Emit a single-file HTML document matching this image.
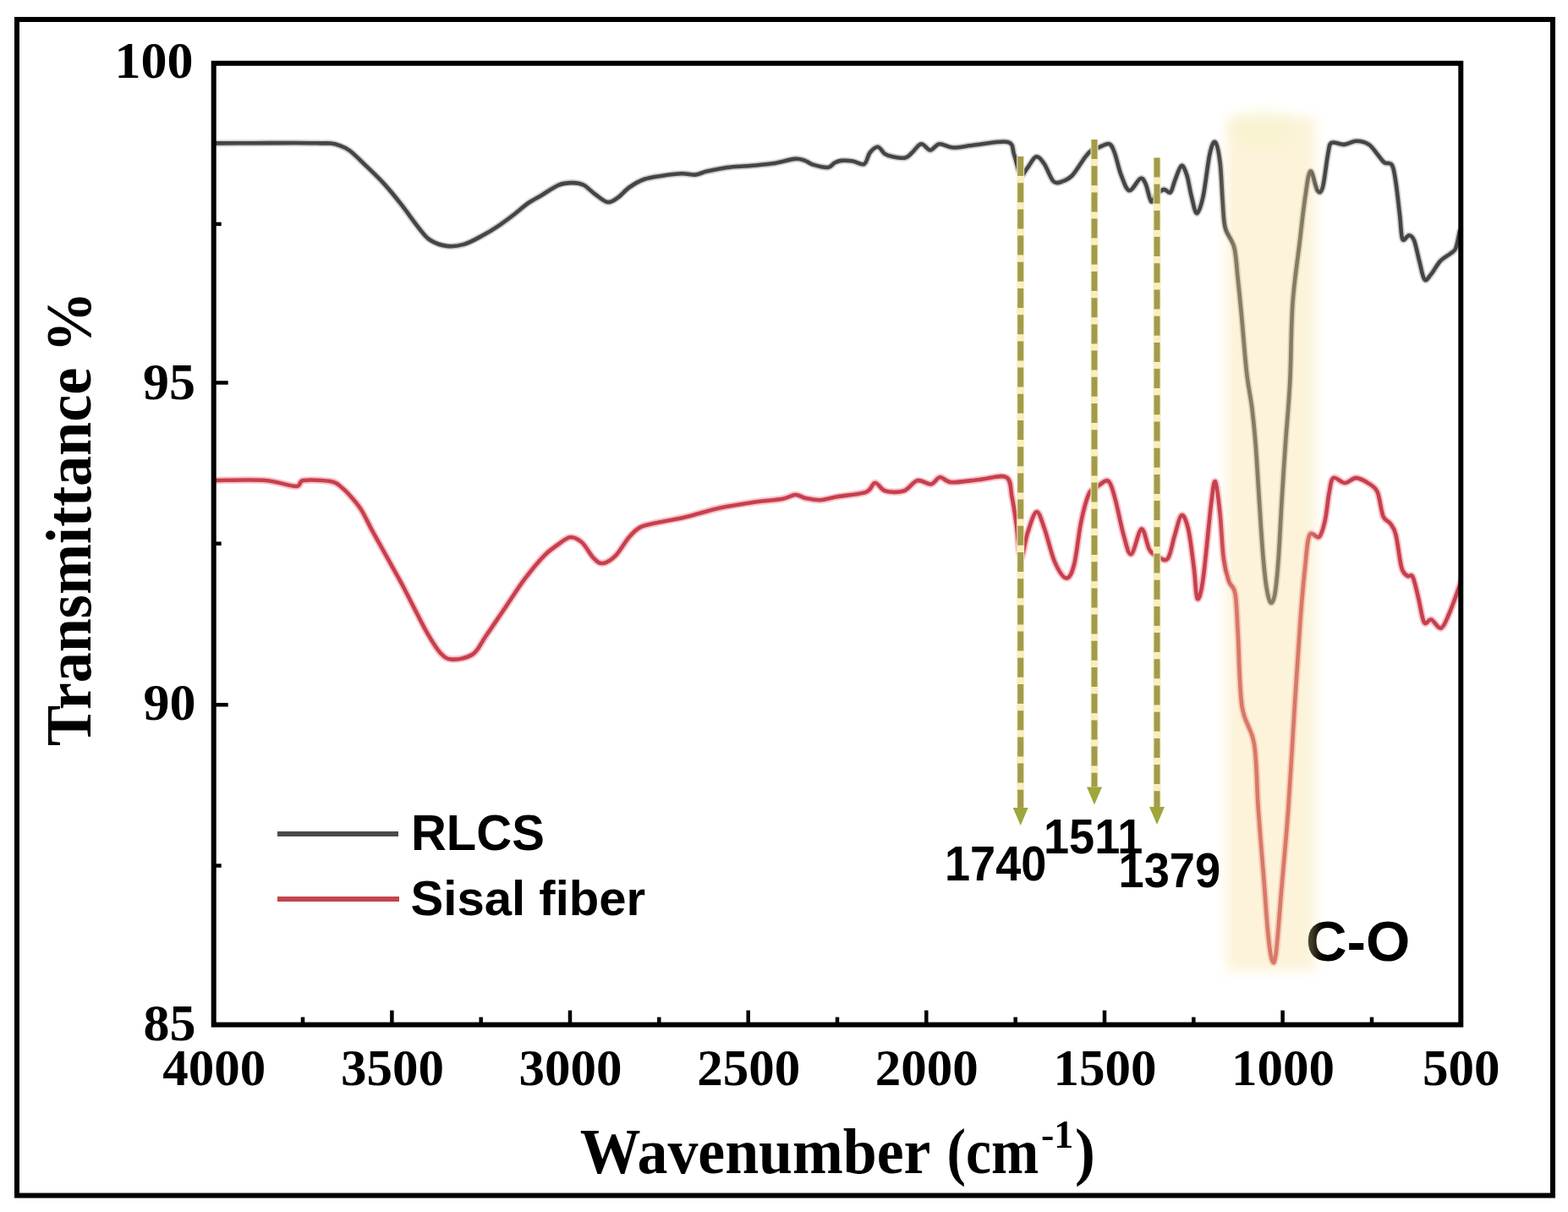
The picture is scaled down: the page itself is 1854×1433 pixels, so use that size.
<!DOCTYPE html><html><head><meta charset="utf-8"><title>FTIR spectra</title><style>
html,body{margin:0;padding:0;background:#fff;}body{width:1854px;height:1433px;overflow:hidden;}
svg{display:block;filter:blur(0.45px);}
.serif{font-family:"Liberation Serif","Times New Roman",serif;font-weight:bold;}
.sans{font-family:"Liberation Sans",Arial,sans-serif;font-weight:bold;}
</style></head><body>
<svg width="1854" height="1433" viewBox="0 0 1854 1433">
<defs>
<filter id="blur8" x="-50%" y="-10%" width="200%" height="120%"><feGaussianBlur stdDeviation="7"/></filter>
<filter id="blur2" x="-50%" y="-5%" width="200%" height="110%"><feGaussianBlur stdDeviation="2"/></filter>
<filter id="soft" x="-5%" y="-5%" width="110%" height="110%"><feGaussianBlur stdDeviation="0.7"/></filter>
<clipPath id="plot"><rect x="252.7" y="74.8" width="1474.6" height="1136.8"/></clipPath>
</defs>
<rect width="1854" height="1433" fill="#fff"/>
<rect x="20" y="23" width="1816" height="1390.5" fill="none" stroke="#000" stroke-width="6"/>
<g clip-path="url(#plot)"><g filter="url(#soft)" fill="none" stroke-linejoin="round" stroke-linecap="round">
<path d="M253.5,169.4 C261.2,169.4 283.9,169.3 300.0,169.2 C316.1,169.1 336.7,169.0 350.0,169.0 C363.3,169.0 373.2,169.3 380.0,169.4 C386.8,169.5 387.6,169.1 391.0,169.5 C394.4,169.9 396.4,170.1 400.2,171.6 C404.0,173.1 408.1,174.0 413.7,178.3 C419.3,182.6 427.2,190.7 434.0,197.2 C440.8,203.7 447.5,210.0 454.2,217.4 C460.9,224.8 467.7,233.1 474.4,241.7 C481.1,250.2 489.0,261.7 494.6,268.7 C500.2,275.7 502.5,279.8 508.1,283.5 C513.7,287.2 521.5,290.0 528.3,290.9 C535.0,291.8 541.9,290.8 548.6,288.9 C555.4,287.0 562.1,283.0 568.8,279.4 C575.5,275.8 582.3,271.8 589.0,267.3 C595.7,262.8 603.4,257.0 609.2,252.5 C615.0,248.0 618.8,244.1 624.0,240.5 C629.2,236.9 634.1,234.5 640.2,230.9 C646.3,227.3 654.4,221.3 660.5,218.8 C666.6,216.3 671.7,216.1 676.6,216.1 C681.5,216.1 685.6,216.6 690.1,218.8 C694.6,221.1 698.9,226.2 703.6,229.6 C708.3,233.0 713.9,238.3 718.4,239.0 C722.9,239.7 726.3,236.5 730.6,233.6 C734.9,230.7 738.9,225.1 744.1,221.5 C749.3,217.9 755.3,214.2 761.6,212.0 C767.9,209.8 774.4,209.1 781.8,208.0 C789.2,206.9 799.4,205.5 806.1,205.3 C812.9,205.1 817.3,207.1 822.3,206.6 C827.2,206.1 829.5,204.0 835.8,202.6 C842.1,201.2 851.5,199.1 860.0,198.0 C868.5,196.9 878.0,196.8 887.0,196.0 C896.0,195.2 905.2,194.7 914.0,193.3 C922.8,192.0 933.3,188.5 939.6,187.9 C945.9,187.3 948.1,188.8 951.7,189.9 C955.3,191.0 956.6,193.2 961.1,194.6 C965.6,195.9 974.4,198.3 978.7,198.0 C983.0,197.7 984.1,193.9 986.8,192.6 C989.5,191.2 991.2,190.2 994.8,189.9 C998.4,189.6 1003.8,189.9 1008.3,190.6 C1012.8,191.3 1018.4,195.6 1021.8,193.9 C1025.2,192.2 1025.9,183.9 1028.6,180.5 C1031.3,177.1 1035.1,173.5 1038.0,173.7 C1040.9,173.9 1043.2,179.9 1046.1,181.8 C1049.0,183.7 1051.5,184.4 1055.5,185.2 C1059.5,186.0 1066.6,187.3 1070.4,186.5 C1074.2,185.7 1075.3,183.2 1078.4,180.5 C1081.5,177.8 1085.6,170.8 1089.2,170.3 C1092.8,169.8 1096.4,177.4 1100.0,177.4 C1103.6,177.4 1106.3,170.7 1110.8,170.2 C1115.3,169.7 1119.8,174.3 1127.0,174.5 C1134.2,174.7 1143.1,172.4 1153.9,171.3 C1164.7,170.2 1184.2,166.0 1191.7,168.0 C1199.2,170.0 1196.7,176.7 1199.2,183.2 C1201.7,189.7 1204.3,204.2 1206.8,206.9 C1209.3,209.6 1211.2,202.9 1214.3,199.3 C1217.3,195.7 1221.7,186.2 1225.1,185.3 C1228.5,184.4 1231.4,189.1 1234.8,193.9 C1238.2,198.8 1242.0,211.0 1245.6,214.4 C1249.2,217.8 1252.6,215.7 1256.4,214.4 C1260.2,213.2 1263.8,211.8 1268.3,206.9 C1272.8,202.1 1279.5,190.3 1283.4,185.3 C1287.4,180.3 1289.5,178.5 1292.0,176.7 C1294.5,174.9 1295.3,175.6 1298.6,174.5 C1301.9,173.4 1308.4,169.1 1311.6,170.2 C1314.8,171.3 1315.7,174.9 1318.0,181.0 C1320.3,187.1 1322.7,199.5 1325.6,206.9 C1328.5,214.3 1331.5,224.5 1335.3,225.2 C1339.1,225.9 1345.1,212.4 1348.3,211.2 C1351.5,209.9 1352.5,213.2 1354.7,217.7 C1356.9,222.2 1359.0,236.2 1361.2,238.2 C1363.4,240.2 1365.2,231.8 1367.7,229.5 C1370.2,227.2 1373.6,224.4 1376.3,224.1 C1379.0,223.8 1381.8,229.2 1383.9,227.4 C1386.1,225.6 1387.1,218.6 1389.2,213.4 C1391.3,208.2 1394.5,197.2 1396.8,196.1 C1399.1,195.0 1401.3,201.0 1403.3,206.9 C1405.3,212.8 1406.7,224.1 1408.7,231.7 C1410.7,239.2 1412.8,252.2 1415.1,252.2 C1417.4,252.2 1420.2,243.2 1422.7,231.7 C1425.2,220.2 1427.9,193.8 1430.2,183.2 C1432.5,172.6 1434.6,166.6 1436.7,168.0 C1438.8,169.4 1441.1,180.2 1442.6,191.9 C1444.1,203.6 1444.7,225.1 1445.7,238.0 C1446.7,250.9 1446.5,260.3 1448.8,269.4 C1451.1,278.5 1456.8,282.6 1459.3,292.4 C1461.8,302.2 1462.1,315.1 1463.5,328.0 C1464.9,340.9 1466.0,351.2 1467.7,369.9 C1469.5,388.6 1471.9,421.3 1474.0,440.0 C1476.1,458.7 1478.5,467.9 1480.3,481.9 C1482.0,495.9 1483.1,506.3 1484.5,523.8 C1485.9,541.2 1487.2,565.7 1488.6,586.6 C1490.0,607.5 1491.4,632.0 1492.8,649.4 C1494.2,666.8 1495.4,680.8 1497.0,691.3 C1498.6,701.8 1500.5,710.5 1502.3,712.3 C1504.0,714.0 1505.9,710.5 1507.5,701.8 C1509.1,693.1 1510.3,679.1 1511.7,659.9 C1513.1,640.7 1514.5,609.3 1515.9,586.6 C1517.3,563.9 1518.4,546.5 1520.0,523.8 C1521.6,501.1 1523.9,477.9 1525.3,450.5 C1526.7,423.1 1526.5,386.8 1528.4,359.4 C1530.3,332.0 1534.3,307.0 1536.8,286.1 C1539.2,265.2 1541.0,247.8 1543.1,233.8 C1545.2,219.9 1547.0,203.8 1549.4,202.4 C1551.8,201.0 1555.3,222.3 1557.7,225.4 C1560.1,228.5 1561.9,228.5 1564.0,221.2 C1566.1,213.9 1568.5,190.1 1570.3,181.4 C1572.0,172.7 1571.3,170.6 1574.5,168.8 C1577.7,167.1 1584.3,171.2 1589.2,170.9 C1594.1,170.6 1598.9,166.8 1603.8,166.8 C1608.7,166.8 1614.3,168.2 1618.5,170.9 C1622.7,173.6 1626.0,179.4 1629.1,183.0 C1632.1,186.6 1634.0,190.1 1636.8,192.2 C1639.6,194.2 1643.7,191.2 1646.0,195.3 C1648.3,199.4 1649.1,206.8 1650.6,216.8 C1652.1,226.8 1653.9,244.2 1655.2,255.2 C1656.5,266.2 1656.5,279.0 1658.3,282.8 C1660.1,286.6 1663.7,277.9 1666.0,278.2 C1668.3,278.4 1670.0,279.2 1672.1,284.3 C1674.1,289.4 1676.2,301.2 1678.3,308.9 C1680.3,316.6 1682.1,327.8 1684.4,330.4 C1686.7,333.0 1689.0,327.9 1692.1,324.3 C1695.2,320.7 1699.0,313.0 1702.8,308.9 C1706.6,304.8 1712.0,302.3 1715.1,299.7 C1718.2,297.1 1719.5,297.9 1721.3,293.5 C1723.1,289.1 1725.1,276.9 1725.9,273.6" stroke="#d0d0d0" stroke-width="8"/>
<path d="M253.5,169.4 C261.2,169.4 283.9,169.3 300.0,169.2 C316.1,169.1 336.7,169.0 350.0,169.0 C363.3,169.0 373.2,169.3 380.0,169.4 C386.8,169.5 387.6,169.1 391.0,169.5 C394.4,169.9 396.4,170.1 400.2,171.6 C404.0,173.1 408.1,174.0 413.7,178.3 C419.3,182.6 427.2,190.7 434.0,197.2 C440.8,203.7 447.5,210.0 454.2,217.4 C460.9,224.8 467.7,233.1 474.4,241.7 C481.1,250.2 489.0,261.7 494.6,268.7 C500.2,275.7 502.5,279.8 508.1,283.5 C513.7,287.2 521.5,290.0 528.3,290.9 C535.0,291.8 541.9,290.8 548.6,288.9 C555.4,287.0 562.1,283.0 568.8,279.4 C575.5,275.8 582.3,271.8 589.0,267.3 C595.7,262.8 603.4,257.0 609.2,252.5 C615.0,248.0 618.8,244.1 624.0,240.5 C629.2,236.9 634.1,234.5 640.2,230.9 C646.3,227.3 654.4,221.3 660.5,218.8 C666.6,216.3 671.7,216.1 676.6,216.1 C681.5,216.1 685.6,216.6 690.1,218.8 C694.6,221.1 698.9,226.2 703.6,229.6 C708.3,233.0 713.9,238.3 718.4,239.0 C722.9,239.7 726.3,236.5 730.6,233.6 C734.9,230.7 738.9,225.1 744.1,221.5 C749.3,217.9 755.3,214.2 761.6,212.0 C767.9,209.8 774.4,209.1 781.8,208.0 C789.2,206.9 799.4,205.5 806.1,205.3 C812.9,205.1 817.3,207.1 822.3,206.6 C827.2,206.1 829.5,204.0 835.8,202.6 C842.1,201.2 851.5,199.1 860.0,198.0 C868.5,196.9 878.0,196.8 887.0,196.0 C896.0,195.2 905.2,194.7 914.0,193.3 C922.8,192.0 933.3,188.5 939.6,187.9 C945.9,187.3 948.1,188.8 951.7,189.9 C955.3,191.0 956.6,193.2 961.1,194.6 C965.6,195.9 974.4,198.3 978.7,198.0 C983.0,197.7 984.1,193.9 986.8,192.6 C989.5,191.2 991.2,190.2 994.8,189.9 C998.4,189.6 1003.8,189.9 1008.3,190.6 C1012.8,191.3 1018.4,195.6 1021.8,193.9 C1025.2,192.2 1025.9,183.9 1028.6,180.5 C1031.3,177.1 1035.1,173.5 1038.0,173.7 C1040.9,173.9 1043.2,179.9 1046.1,181.8 C1049.0,183.7 1051.5,184.4 1055.5,185.2 C1059.5,186.0 1066.6,187.3 1070.4,186.5 C1074.2,185.7 1075.3,183.2 1078.4,180.5 C1081.5,177.8 1085.6,170.8 1089.2,170.3 C1092.8,169.8 1096.4,177.4 1100.0,177.4 C1103.6,177.4 1106.3,170.7 1110.8,170.2 C1115.3,169.7 1119.8,174.3 1127.0,174.5 C1134.2,174.7 1143.1,172.4 1153.9,171.3 C1164.7,170.2 1184.2,166.0 1191.7,168.0 C1199.2,170.0 1196.7,176.7 1199.2,183.2 C1201.7,189.7 1204.3,204.2 1206.8,206.9 C1209.3,209.6 1211.2,202.9 1214.3,199.3 C1217.3,195.7 1221.7,186.2 1225.1,185.3 C1228.5,184.4 1231.4,189.1 1234.8,193.9 C1238.2,198.8 1242.0,211.0 1245.6,214.4 C1249.2,217.8 1252.6,215.7 1256.4,214.4 C1260.2,213.2 1263.8,211.8 1268.3,206.9 C1272.8,202.1 1279.5,190.3 1283.4,185.3 C1287.4,180.3 1289.5,178.5 1292.0,176.7 C1294.5,174.9 1295.3,175.6 1298.6,174.5 C1301.9,173.4 1308.4,169.1 1311.6,170.2 C1314.8,171.3 1315.7,174.9 1318.0,181.0 C1320.3,187.1 1322.7,199.5 1325.6,206.9 C1328.5,214.3 1331.5,224.5 1335.3,225.2 C1339.1,225.9 1345.1,212.4 1348.3,211.2 C1351.5,209.9 1352.5,213.2 1354.7,217.7 C1356.9,222.2 1359.0,236.2 1361.2,238.2 C1363.4,240.2 1365.2,231.8 1367.7,229.5 C1370.2,227.2 1373.6,224.4 1376.3,224.1 C1379.0,223.8 1381.8,229.2 1383.9,227.4 C1386.1,225.6 1387.1,218.6 1389.2,213.4 C1391.3,208.2 1394.5,197.2 1396.8,196.1 C1399.1,195.0 1401.3,201.0 1403.3,206.9 C1405.3,212.8 1406.7,224.1 1408.7,231.7 C1410.7,239.2 1412.8,252.2 1415.1,252.2 C1417.4,252.2 1420.2,243.2 1422.7,231.7 C1425.2,220.2 1427.9,193.8 1430.2,183.2 C1432.5,172.6 1434.6,166.6 1436.7,168.0 C1438.8,169.4 1441.1,180.2 1442.6,191.9 C1444.1,203.6 1444.7,225.1 1445.7,238.0 C1446.7,250.9 1446.5,260.3 1448.8,269.4 C1451.1,278.5 1456.8,282.6 1459.3,292.4 C1461.8,302.2 1462.1,315.1 1463.5,328.0 C1464.9,340.9 1466.0,351.2 1467.7,369.9 C1469.5,388.6 1471.9,421.3 1474.0,440.0 C1476.1,458.7 1478.5,467.9 1480.3,481.9 C1482.0,495.9 1483.1,506.3 1484.5,523.8 C1485.9,541.2 1487.2,565.7 1488.6,586.6 C1490.0,607.5 1491.4,632.0 1492.8,649.4 C1494.2,666.8 1495.4,680.8 1497.0,691.3 C1498.6,701.8 1500.5,710.5 1502.3,712.3 C1504.0,714.0 1505.9,710.5 1507.5,701.8 C1509.1,693.1 1510.3,679.1 1511.7,659.9 C1513.1,640.7 1514.5,609.3 1515.9,586.6 C1517.3,563.9 1518.4,546.5 1520.0,523.8 C1521.6,501.1 1523.9,477.9 1525.3,450.5 C1526.7,423.1 1526.5,386.8 1528.4,359.4 C1530.3,332.0 1534.3,307.0 1536.8,286.1 C1539.2,265.2 1541.0,247.8 1543.1,233.8 C1545.2,219.9 1547.0,203.8 1549.4,202.4 C1551.8,201.0 1555.3,222.3 1557.7,225.4 C1560.1,228.5 1561.9,228.5 1564.0,221.2 C1566.1,213.9 1568.5,190.1 1570.3,181.4 C1572.0,172.7 1571.3,170.6 1574.5,168.8 C1577.7,167.1 1584.3,171.2 1589.2,170.9 C1594.1,170.6 1598.9,166.8 1603.8,166.8 C1608.7,166.8 1614.3,168.2 1618.5,170.9 C1622.7,173.6 1626.0,179.4 1629.1,183.0 C1632.1,186.6 1634.0,190.1 1636.8,192.2 C1639.6,194.2 1643.7,191.2 1646.0,195.3 C1648.3,199.4 1649.1,206.8 1650.6,216.8 C1652.1,226.8 1653.9,244.2 1655.2,255.2 C1656.5,266.2 1656.5,279.0 1658.3,282.8 C1660.1,286.6 1663.7,277.9 1666.0,278.2 C1668.3,278.4 1670.0,279.2 1672.1,284.3 C1674.1,289.4 1676.2,301.2 1678.3,308.9 C1680.3,316.6 1682.1,327.8 1684.4,330.4 C1686.7,333.0 1689.0,327.9 1692.1,324.3 C1695.2,320.7 1699.0,313.0 1702.8,308.9 C1706.6,304.8 1712.0,302.3 1715.1,299.7 C1718.2,297.1 1719.5,297.9 1721.3,293.5 C1723.1,289.1 1725.1,276.9 1725.9,273.6" stroke="#444" stroke-width="4.6"/>
<path d="M255.4,568.0 C265.1,568.0 297.8,566.8 313.5,568.0 C329.2,569.2 342.2,575.0 349.8,575.0 C357.4,575.0 351.9,569.0 358.9,568.0 C365.8,567.0 383.9,567.9 391.5,569.3 C399.1,570.7 400.2,573.4 404.2,576.5 C408.2,579.6 411.7,583.5 415.6,588.0 C419.5,592.5 423.6,597.1 427.5,603.4 C431.4,609.7 435.4,618.6 439.3,625.9 C443.2,633.2 447.2,640.2 451.2,647.3 C455.1,654.4 459.1,661.5 463.0,668.6 C466.9,675.7 470.4,681.5 474.9,690.0 C479.4,698.5 484.9,709.7 490.0,719.5 C495.1,729.3 500.3,740.1 505.4,748.9 C510.5,757.6 515.9,766.9 520.7,772.0 C525.6,777.1 528.1,779.4 534.5,779.6 C540.9,779.9 552.4,778.1 559.1,773.5 C565.8,768.9 568.1,761.2 574.5,752.0 C580.9,742.8 589.8,729.5 597.5,718.2 C605.2,706.9 612.8,694.6 620.5,684.4 C628.2,674.2 637.2,663.4 643.6,656.8 C650.0,650.1 653.8,648.1 658.9,644.5 C664.0,640.9 669.4,635.8 674.3,635.3 C679.2,634.8 683.5,637.3 688.1,641.4 C692.7,645.5 697.8,655.8 701.9,659.9 C706.0,664.0 708.4,666.5 712.7,666.0 C717.1,665.5 722.9,661.9 728.0,656.8 C733.1,651.7 738.7,641.1 743.5,635.5 C748.3,629.9 751.4,626.3 757.0,623.4 C762.6,620.5 768.2,620.0 777.2,618.0 C786.2,616.0 798.5,614.1 810.9,611.2 C823.3,608.3 837.9,603.4 851.4,600.5 C864.9,597.6 879.4,595.5 891.8,593.7 C904.1,591.9 917.4,591.2 925.5,589.7 C933.6,588.2 935.9,585.1 940.4,585.0 C944.9,584.9 947.6,588.0 952.5,589.0 C957.4,590.0 963.7,591.5 970.0,591.2 C976.3,590.9 981.2,588.8 990.2,587.2 C999.2,585.6 1016.5,584.5 1023.9,581.8 C1031.3,579.1 1030.9,571.2 1034.7,571.0 C1038.5,570.8 1041.3,578.9 1046.9,580.5 C1052.5,582.1 1062.1,582.5 1068.4,580.5 C1074.7,578.5 1079.2,569.6 1084.6,568.3 C1090.0,566.9 1096.3,573.1 1100.8,572.4 C1105.3,571.7 1107.5,564.7 1111.6,564.3 C1115.6,563.9 1117.2,569.8 1125.1,570.2 C1133.0,570.7 1148.0,568.0 1158.8,567.0 C1169.6,566.0 1183.5,560.9 1189.8,564.3 C1196.1,567.7 1194.5,577.8 1196.5,587.2 C1198.5,596.6 1200.2,608.8 1201.9,620.9 C1203.7,633.0 1204.8,658.5 1207.0,660.0 C1209.2,661.5 1211.9,639.1 1215.0,630.0 C1218.1,620.9 1222.2,606.0 1225.6,605.3 C1228.9,604.5 1231.5,615.6 1235.1,625.5 C1238.7,635.4 1242.9,654.9 1247.2,664.6 C1251.5,674.3 1256.9,683.0 1260.7,683.5 C1264.5,684.0 1267.2,678.3 1270.1,667.3 C1273.0,656.3 1275.3,631.3 1278.2,617.4 C1281.1,603.5 1284.4,590.7 1287.6,583.7 C1290.8,576.7 1293.3,578.1 1297.1,575.6 C1300.9,573.1 1307.0,566.4 1310.6,568.9 C1314.2,571.4 1315.8,580.2 1318.7,590.5 C1321.6,600.8 1325.0,620.1 1328.1,630.9 C1331.2,641.7 1333.9,656.1 1337.5,655.2 C1341.1,654.3 1346.1,626.4 1349.7,625.5 C1353.3,624.6 1355.9,644.4 1359.1,649.8 C1362.2,655.2 1365.0,656.1 1368.6,657.9 C1372.2,659.7 1377.3,664.6 1380.7,660.6 C1384.1,656.6 1386.1,642.2 1388.8,633.6 C1391.5,625.0 1394.2,610.6 1396.9,609.3 C1399.6,607.9 1402.5,615.1 1405.0,625.5 C1407.5,635.9 1409.9,657.7 1411.7,671.4 C1413.5,685.1 1413.9,705.6 1415.7,707.8 C1417.5,710.0 1419.8,703.2 1422.5,684.8 C1425.2,666.4 1429.5,616.4 1431.9,597.2 C1434.3,578.0 1435.2,567.8 1437.0,569.5 C1438.8,571.2 1441.0,592.4 1442.6,607.5 C1444.2,622.6 1445.1,646.6 1446.8,659.9 C1448.5,673.2 1450.7,680.1 1453.0,687.1 C1455.3,694.1 1458.7,691.8 1460.5,702.0 C1462.3,712.2 1462.4,726.1 1463.7,748.2 C1465.0,770.4 1465.3,813.0 1468.5,834.9 C1471.7,856.8 1479.8,859.5 1483.0,879.9 C1486.2,900.2 1485.9,930.8 1487.8,957.0 C1489.7,983.2 1492.3,1013.2 1494.2,1037.3 C1496.1,1061.4 1497.5,1085.2 1499.1,1101.5 C1500.7,1117.8 1502.4,1130.7 1504.0,1135.0 C1505.6,1139.3 1506.9,1140.8 1508.7,1127.2 C1510.5,1113.6 1512.7,1081.8 1515.1,1053.4 C1517.5,1025.0 1520.5,994.5 1523.2,957.0 C1525.9,919.5 1528.8,866.0 1531.2,828.5 C1533.6,791.0 1535.6,758.5 1537.6,732.1 C1539.6,705.8 1541.3,687.0 1543.1,670.4 C1544.9,653.8 1545.5,638.6 1548.3,632.7 C1551.1,626.8 1556.7,637.7 1559.8,634.8 C1562.9,631.9 1564.7,624.2 1566.7,615.4 C1568.7,606.6 1570.0,590.3 1571.7,581.9 C1573.4,573.5 1573.6,566.9 1576.7,565.1 C1579.8,563.3 1585.6,571.0 1590.1,571.0 C1594.6,571.0 1598.8,565.0 1603.5,565.1 C1608.2,565.2 1614.4,569.0 1618.6,571.8 C1622.8,574.6 1625.9,575.5 1628.7,581.9 C1631.5,588.3 1632.9,604.2 1635.4,610.3 C1637.9,616.4 1641.2,615.1 1643.7,618.7 C1646.2,622.3 1648.2,623.5 1650.4,632.1 C1652.6,640.8 1654.9,662.5 1657.1,670.6 C1659.3,678.7 1661.6,678.8 1663.8,680.7 C1666.0,682.7 1668.3,677.8 1670.5,682.3 C1672.7,686.8 1675.0,698.5 1677.2,707.4 C1679.4,716.3 1681.4,731.7 1683.9,735.9 C1686.4,740.1 1689.0,731.5 1692.3,732.6 C1695.6,733.7 1700.4,744.0 1704.0,742.6 C1707.6,741.2 1710.7,731.7 1714.0,724.2 C1717.3,716.7 1721.9,703.5 1724.1,697.4 C1726.3,691.3 1726.9,689.1 1727.4,687.4" stroke="#f7c4ca" stroke-width="8.5"/>
<path d="M255.4,568.0 C265.1,568.0 297.8,566.8 313.5,568.0 C329.2,569.2 342.2,575.0 349.8,575.0 C357.4,575.0 351.9,569.0 358.9,568.0 C365.8,567.0 383.9,567.9 391.5,569.3 C399.1,570.7 400.2,573.4 404.2,576.5 C408.2,579.6 411.7,583.5 415.6,588.0 C419.5,592.5 423.6,597.1 427.5,603.4 C431.4,609.7 435.4,618.6 439.3,625.9 C443.2,633.2 447.2,640.2 451.2,647.3 C455.1,654.4 459.1,661.5 463.0,668.6 C466.9,675.7 470.4,681.5 474.9,690.0 C479.4,698.5 484.9,709.7 490.0,719.5 C495.1,729.3 500.3,740.1 505.4,748.9 C510.5,757.6 515.9,766.9 520.7,772.0 C525.6,777.1 528.1,779.4 534.5,779.6 C540.9,779.9 552.4,778.1 559.1,773.5 C565.8,768.9 568.1,761.2 574.5,752.0 C580.9,742.8 589.8,729.5 597.5,718.2 C605.2,706.9 612.8,694.6 620.5,684.4 C628.2,674.2 637.2,663.4 643.6,656.8 C650.0,650.1 653.8,648.1 658.9,644.5 C664.0,640.9 669.4,635.8 674.3,635.3 C679.2,634.8 683.5,637.3 688.1,641.4 C692.7,645.5 697.8,655.8 701.9,659.9 C706.0,664.0 708.4,666.5 712.7,666.0 C717.1,665.5 722.9,661.9 728.0,656.8 C733.1,651.7 738.7,641.1 743.5,635.5 C748.3,629.9 751.4,626.3 757.0,623.4 C762.6,620.5 768.2,620.0 777.2,618.0 C786.2,616.0 798.5,614.1 810.9,611.2 C823.3,608.3 837.9,603.4 851.4,600.5 C864.9,597.6 879.4,595.5 891.8,593.7 C904.1,591.9 917.4,591.2 925.5,589.7 C933.6,588.2 935.9,585.1 940.4,585.0 C944.9,584.9 947.6,588.0 952.5,589.0 C957.4,590.0 963.7,591.5 970.0,591.2 C976.3,590.9 981.2,588.8 990.2,587.2 C999.2,585.6 1016.5,584.5 1023.9,581.8 C1031.3,579.1 1030.9,571.2 1034.7,571.0 C1038.5,570.8 1041.3,578.9 1046.9,580.5 C1052.5,582.1 1062.1,582.5 1068.4,580.5 C1074.7,578.5 1079.2,569.6 1084.6,568.3 C1090.0,566.9 1096.3,573.1 1100.8,572.4 C1105.3,571.7 1107.5,564.7 1111.6,564.3 C1115.6,563.9 1117.2,569.8 1125.1,570.2 C1133.0,570.7 1148.0,568.0 1158.8,567.0 C1169.6,566.0 1183.5,560.9 1189.8,564.3 C1196.1,567.7 1194.5,577.8 1196.5,587.2 C1198.5,596.6 1200.2,608.8 1201.9,620.9 C1203.7,633.0 1204.8,658.5 1207.0,660.0 C1209.2,661.5 1211.9,639.1 1215.0,630.0 C1218.1,620.9 1222.2,606.0 1225.6,605.3 C1228.9,604.5 1231.5,615.6 1235.1,625.5 C1238.7,635.4 1242.9,654.9 1247.2,664.6 C1251.5,674.3 1256.9,683.0 1260.7,683.5 C1264.5,684.0 1267.2,678.3 1270.1,667.3 C1273.0,656.3 1275.3,631.3 1278.2,617.4 C1281.1,603.5 1284.4,590.7 1287.6,583.7 C1290.8,576.7 1293.3,578.1 1297.1,575.6 C1300.9,573.1 1307.0,566.4 1310.6,568.9 C1314.2,571.4 1315.8,580.2 1318.7,590.5 C1321.6,600.8 1325.0,620.1 1328.1,630.9 C1331.2,641.7 1333.9,656.1 1337.5,655.2 C1341.1,654.3 1346.1,626.4 1349.7,625.5 C1353.3,624.6 1355.9,644.4 1359.1,649.8 C1362.2,655.2 1365.0,656.1 1368.6,657.9 C1372.2,659.7 1377.3,664.6 1380.7,660.6 C1384.1,656.6 1386.1,642.2 1388.8,633.6 C1391.5,625.0 1394.2,610.6 1396.9,609.3 C1399.6,607.9 1402.5,615.1 1405.0,625.5 C1407.5,635.9 1409.9,657.7 1411.7,671.4 C1413.5,685.1 1413.9,705.6 1415.7,707.8 C1417.5,710.0 1419.8,703.2 1422.5,684.8 C1425.2,666.4 1429.5,616.4 1431.9,597.2 C1434.3,578.0 1435.2,567.8 1437.0,569.5 C1438.8,571.2 1441.0,592.4 1442.6,607.5 C1444.2,622.6 1445.1,646.6 1446.8,659.9 C1448.5,673.2 1450.7,680.1 1453.0,687.1 C1455.3,694.1 1458.7,691.8 1460.5,702.0 C1462.3,712.2 1462.4,726.1 1463.7,748.2 C1465.0,770.4 1465.3,813.0 1468.5,834.9 C1471.7,856.8 1479.8,859.5 1483.0,879.9 C1486.2,900.2 1485.9,930.8 1487.8,957.0 C1489.7,983.2 1492.3,1013.2 1494.2,1037.3 C1496.1,1061.4 1497.5,1085.2 1499.1,1101.5 C1500.7,1117.8 1502.4,1130.7 1504.0,1135.0 C1505.6,1139.3 1506.9,1140.8 1508.7,1127.2 C1510.5,1113.6 1512.7,1081.8 1515.1,1053.4 C1517.5,1025.0 1520.5,994.5 1523.2,957.0 C1525.9,919.5 1528.8,866.0 1531.2,828.5 C1533.6,791.0 1535.6,758.5 1537.6,732.1 C1539.6,705.8 1541.3,687.0 1543.1,670.4 C1544.9,653.8 1545.5,638.6 1548.3,632.7 C1551.1,626.8 1556.7,637.7 1559.8,634.8 C1562.9,631.9 1564.7,624.2 1566.7,615.4 C1568.7,606.6 1570.0,590.3 1571.7,581.9 C1573.4,573.5 1573.6,566.9 1576.7,565.1 C1579.8,563.3 1585.6,571.0 1590.1,571.0 C1594.6,571.0 1598.8,565.0 1603.5,565.1 C1608.2,565.2 1614.4,569.0 1618.6,571.8 C1622.8,574.6 1625.9,575.5 1628.7,581.9 C1631.5,588.3 1632.9,604.2 1635.4,610.3 C1637.9,616.4 1641.2,615.1 1643.7,618.7 C1646.2,622.3 1648.2,623.5 1650.4,632.1 C1652.6,640.8 1654.9,662.5 1657.1,670.6 C1659.3,678.7 1661.6,678.8 1663.8,680.7 C1666.0,682.7 1668.3,677.8 1670.5,682.3 C1672.7,686.8 1675.0,698.5 1677.2,707.4 C1679.4,716.3 1681.4,731.7 1683.9,735.9 C1686.4,740.1 1689.0,731.5 1692.3,732.6 C1695.6,733.7 1700.4,744.0 1704.0,742.6 C1707.6,741.2 1710.7,731.7 1714.0,724.2 C1717.3,716.7 1721.9,703.5 1724.1,697.4 C1726.3,691.3 1726.9,689.1 1727.4,687.4" stroke="#c63f4e" stroke-width="4.6"/>
</g></g>
<line x1="1206.7" y1="183.0" x2="1206.7" y2="972.0" stroke="#fbf3bd" stroke-width="13" filter="url(#blur2)"/>
<line x1="1206.7" y1="185.0" x2="1206.7" y2="954.0" stroke="#f7efc0" stroke-width="9"/>
<line x1="1294.0" y1="163.0" x2="1294.0" y2="947.5" stroke="#fbf3bd" stroke-width="13" filter="url(#blur2)"/>
<line x1="1294.0" y1="165.0" x2="1294.0" y2="929.5" stroke="#f7efc0" stroke-width="9"/>
<line x1="1368.0" y1="184.5" x2="1368.0" y2="971.0" stroke="#fbf3bd" stroke-width="13" filter="url(#blur2)"/>
<line x1="1368.0" y1="186.5" x2="1368.0" y2="953.0" stroke="#f7efc0" stroke-width="9"/>
<line x1="1206.7" y1="185.0" x2="1206.7" y2="955.0" stroke="#a39b4c" stroke-width="7" stroke-dasharray="23 8.2"/>
<path d="M1197.7,955.0 L1215.7,955.0 L1206.7,976.0 Z" fill="#9ea63c"/>
<line x1="1294.0" y1="165.0" x2="1294.0" y2="930.5" stroke="#a39b4c" stroke-width="7" stroke-dasharray="23 8.2"/>
<path d="M1285.0,930.5 L1303.0,930.5 L1294.0,951.5 Z" fill="#9ea63c"/>
<line x1="1368.0" y1="186.5" x2="1368.0" y2="954.0" stroke="#a39b4c" stroke-width="7" stroke-dasharray="23 8.2"/>
<path d="M1359.0,954.0 L1377.0,954.0 L1368.0,975.0 Z" fill="#9ea63c"/>
<rect x="252.7" y="74.8" width="1474.6" height="1136.8" fill="none" stroke="#000" stroke-width="6"/>
<line x1="358.0" y1="1211.6" x2="358.0" y2="1202.6" stroke="#000" stroke-width="4.5"/>
<line x1="463.4" y1="1211.6" x2="463.4" y2="1194.6" stroke="#000" stroke-width="4.5"/>
<line x1="568.7" y1="1211.6" x2="568.7" y2="1202.6" stroke="#000" stroke-width="4.5"/>
<line x1="674.0" y1="1211.6" x2="674.0" y2="1194.6" stroke="#000" stroke-width="4.5"/>
<line x1="779.3" y1="1211.6" x2="779.3" y2="1202.6" stroke="#000" stroke-width="4.5"/>
<line x1="884.7" y1="1211.6" x2="884.7" y2="1194.6" stroke="#000" stroke-width="4.5"/>
<line x1="990.0" y1="1211.6" x2="990.0" y2="1202.6" stroke="#000" stroke-width="4.5"/>
<line x1="1095.3" y1="1211.6" x2="1095.3" y2="1194.6" stroke="#000" stroke-width="4.5"/>
<line x1="1200.7" y1="1211.6" x2="1200.7" y2="1202.6" stroke="#000" stroke-width="4.5"/>
<line x1="1306.0" y1="1211.6" x2="1306.0" y2="1194.6" stroke="#000" stroke-width="4.5"/>
<line x1="1411.3" y1="1211.6" x2="1411.3" y2="1202.6" stroke="#000" stroke-width="4.5"/>
<line x1="1516.6" y1="1211.6" x2="1516.6" y2="1194.6" stroke="#000" stroke-width="4.5"/>
<line x1="1622.0" y1="1211.6" x2="1622.0" y2="1202.6" stroke="#000" stroke-width="4.5"/>
<line x1="252.7" y1="264.9" x2="261.7" y2="264.9" stroke="#000" stroke-width="4.5"/>
<line x1="252.7" y1="452.5" x2="269.7" y2="452.5" stroke="#000" stroke-width="4.5"/>
<line x1="252.7" y1="642.7" x2="261.7" y2="642.7" stroke="#000" stroke-width="4.5"/>
<line x1="252.7" y1="833.3" x2="269.7" y2="833.3" stroke="#000" stroke-width="4.5"/>
<line x1="252.7" y1="1023.5" x2="261.7" y2="1023.5" stroke="#000" stroke-width="4.5"/>
<text class="serif" transform="translate(253.2,1283.0) scale(1,1.020)" font-size="61.0" text-anchor="middle" fill="#000">4000</text>
<text class="serif" transform="translate(463.9,1283.0) scale(1,1.020)" font-size="61.0" text-anchor="middle" fill="#000">3500</text>
<text class="serif" transform="translate(674.5,1283.0) scale(1,1.020)" font-size="61.0" text-anchor="middle" fill="#000">3000</text>
<text class="serif" transform="translate(885.2,1283.0) scale(1,1.020)" font-size="61.0" text-anchor="middle" fill="#000">2500</text>
<text class="serif" transform="translate(1095.8,1283.0) scale(1,1.020)" font-size="61.0" text-anchor="middle" fill="#000">2000</text>
<text class="serif" transform="translate(1306.5,1283.0) scale(1,1.020)" font-size="61.0" text-anchor="middle" fill="#000">1500</text>
<text class="serif" transform="translate(1517.1,1283.0) scale(1,1.020)" font-size="61.0" text-anchor="middle" fill="#000">1000</text>
<text class="serif" transform="translate(1727.8,1283.0) scale(1,1.020)" font-size="61.0" text-anchor="middle" fill="#000">500</text>
<text class="serif" transform="translate(228.5,92.3) scale(1,1.000)" font-size="62.0" text-anchor="end" fill="#000">100</text>
<text class="serif" transform="translate(231.0,472.0) scale(1,1.000)" font-size="62.0" text-anchor="end" fill="#000">95</text>
<text class="serif" transform="translate(231.5,850.5) scale(1,1.000)" font-size="62.0" text-anchor="end" fill="#000">90</text>
<text class="serif" transform="translate(231.5,1229.5) scale(1,1.000)" font-size="62.0" text-anchor="end" fill="#000">85</text>
<text class="serif" transform="translate(685.7,1386.8) scale(1,1.070)" font-size="71.8" text-anchor="start" fill="#000">Wavenumber</text>
<text class="serif" transform="translate(1119.5,1386.8) scale(0.94,1.07)" font-size="71.8" fill="#000">(cm</text>
<text class="serif" transform="translate(1231.0,1357.2) scale(1,1.000)" font-size="46.0" text-anchor="start" fill="#000">-1</text>
<text class="serif" transform="translate(1271.0,1386.8) scale(1,1.070)" font-size="71.8" text-anchor="start" fill="#000">)</text>
<text class="serif" transform="translate(106.5,882) rotate(-90) scale(1,1.046)" font-size="72.1" fill="#000">Transmittance %</text>
<line x1="328" y1="986" x2="471" y2="986" stroke="#4a4a4a" stroke-width="6"/>
<line x1="328" y1="1063" x2="472" y2="1063" stroke="#c4434f" stroke-width="6"/>
<text class="sans" transform="translate(486.0,1004.7) scale(1,1.030)" font-size="58.0" text-anchor="start" fill="#000">RLCS</text>
<text class="sans" transform="translate(485.5,1082.4) scale(1,1.000)" font-size="58.1" text-anchor="start" fill="#000">Sisal fiber</text>
<text class="sans" transform="translate(1117.0,1041.0) scale(1,1.070)" font-size="54.1" text-anchor="start" fill="#000">1740</text>
<text class="sans" transform="translate(1234.0,1009.0) scale(1,1.070)" font-size="54.1" text-anchor="start" fill="#000">1511</text>
<text class="sans" transform="translate(1322.5,1048.7) scale(1,1.070)" font-size="54.2" text-anchor="start" fill="#000">1379</text>
<text class="sans" transform="translate(1544.0,1136.0) scale(1,1.000)" font-size="67.3" text-anchor="start" fill="#000">C-O</text>
<rect x="1450" y="138" width="105" height="1010" fill="#f8df98" fill-opacity="0.36" filter="url(#blur8)"/>
<ellipse cx="1494" cy="152" rx="38" ry="24" fill="#eaf3b8" fill-opacity="0.25" filter="url(#blur8)"/>
</svg></body></html>
